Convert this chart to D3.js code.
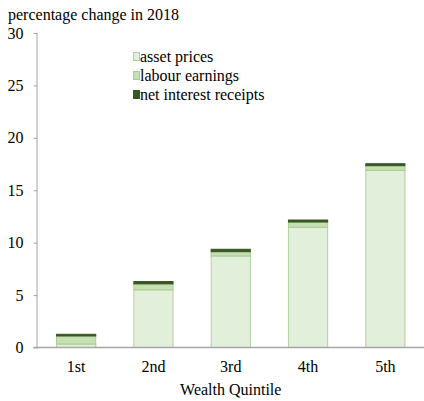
<!DOCTYPE html>
<html><head><meta charset="utf-8">
<script src="https://cdn.jsdelivr.net/npm/d3@7"></script>
<style>body{margin:0;background:#fff}svg{display:block}</style>
</head><body><svg id="c" width="424" height="401" font-family="Liberation Serif"></svg>
<script>
const categories = ["1st","2nd","3rd","4th","5th"];
const seriesNames = ["asset prices","labour earnings","net interest receipts"];
const assetPrices = [0.33, 5.5, 8.73, 11.47, 16.9];
const labourEarnings = [0.77, 0.57, 0.41, 0.5, 0.44];
const netInterest = [0.16, 0.22, 0.23, 0.19, 0.19];
const yTicks = [0,5,10,15,20,25,30];
const colors = ["#e2efda","#c6e0b4","#375623"];
const strokes = ["#b2cfa0","#a9cc92","#375623"];
const FONT = "Liberation Serif";

const svg = d3.select("#c");
const x0 = 37.5, x1 = 424, yb = 347.5, yt = 33;
const x = d3.scaleBand().domain(categories).range([x0,x1]).paddingInner(0.48).paddingOuter(0.24);
const y = d3.scaleLinear().domain([0,30]).range([yb,yt]);

const rows = categories.map((c,i)=>({cat:c, s0:assetPrices[i], s1:labourEarnings[i], s2:netInterest[i]}));
const stack = d3.stack().keys(["s0","s1","s2"])(rows);

// y axis
const ya = svg.append("g").attr("transform",`translate(${x0},0)`)
  .call(d3.axisLeft(y).tickValues(yTicks).tickSize(4).tickPadding(10));
ya.attr("font-family",FONT).attr("font-size",16);
ya.select(".domain").attr("stroke","#a6a6a6").attr("d",`M-0.5,${yb}V${yt}`);
ya.selectAll(".tick line").attr("stroke","#a6a6a6");
ya.selectAll(".tick text").attr("font-family",FONT).attr("font-size",16).attr("fill","#000");

// bars
stack.forEach((layer,k)=>{
  svg.append("g").selectAll("rect").data(layer).join("rect")
    .attr("x",d=>x(d.data.cat)+0.5)
    .attr("width",x.bandwidth()-1)
    .attr("y",d=>y(d[1]))
    .attr("height",d=>Math.max(0,y(d[0])-y(d[1])))
    .attr("fill",colors[k])
    .attr("stroke",strokes[k]).attr("stroke-width",1);
});

// x axis
const xa = svg.append("g").attr("transform",`translate(0,${yb})`)
  .call(d3.axisBottom(x).tickSize(0).tickPadding(13));
xa.attr("font-family",FONT).attr("font-size",16);
xa.select(".domain").attr("stroke","#a6a6a6").attr("stroke-width",1.5).attr("d",`M${x0-4},0H${x1}`);
xa.selectAll(".tick text").attr("font-family",FONT).attr("font-size",16).attr("fill","#000");

svg.append("text").attr("x",8).attr("y",20).attr("font-family",FONT).attr("font-size",16).text("percentage change in 2018");
svg.append("text").attr("x",(x0+x1)/2).attr("y",395).attr("text-anchor","middle").attr("font-family",FONT).attr("font-size",16).text("Wealth Quintile");

// legend
const lg = svg.append("g").attr("transform","translate(133,50)");
seriesNames.forEach((n,i)=>{
  lg.append("rect").attr("x",0.5).attr("y",i*19+2.5).attr("width",6).attr("height",8)
    .attr("fill",colors[i]).attr("stroke",strokes[i]);
  lg.append("text").attr("x",7).attr("y",i*19+12).attr("font-family",FONT).attr("font-size",16).text(n);
});
</script></body></html>
